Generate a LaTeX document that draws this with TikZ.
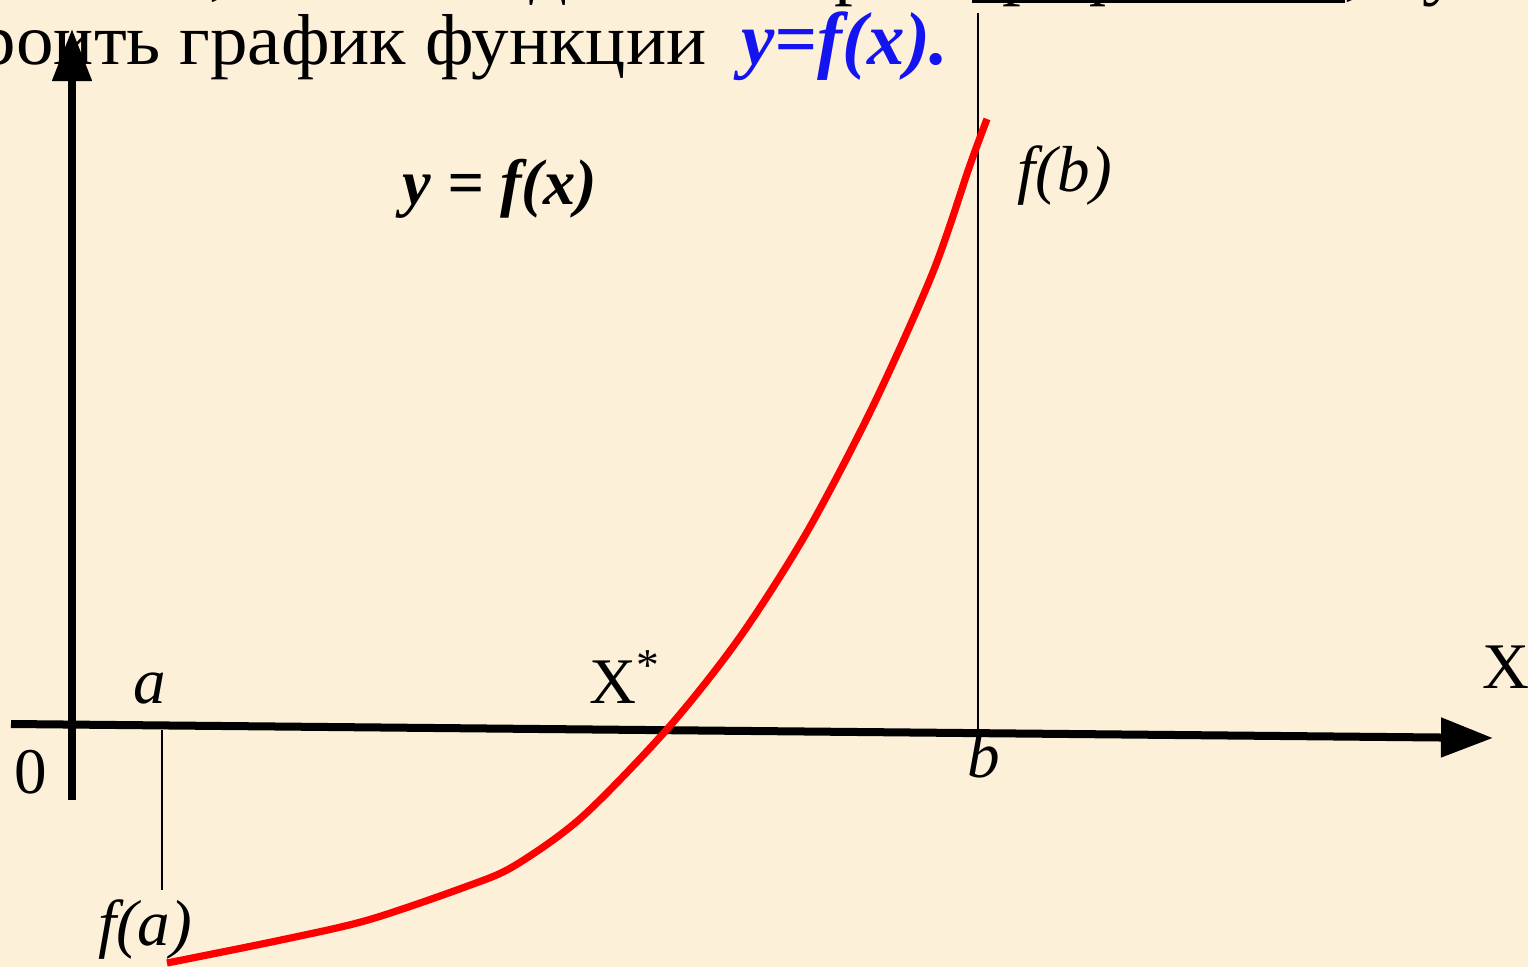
\documentclass[tikz,border=0pt]{standalone}
\usepackage{fontspec}
\setmainfont{Liberation Serif}
\newfontfamily\headfont[FakeStretch=1.04]{Liberation Serif}
\usetikzlibrary{arrows.meta, positioning}
\definecolor{paperbg}{RGB}{252,240,217}
\definecolor{curvered}{RGB}{255,0,0}
\definecolor{titleblue}{RGB}{20,20,240}
\newcommand{\thickul}[1]{\setbox0\hbox{#1}\rlap{\rule[-0.147em]{\wd0}{0.07em}}\box0}
\tikzset{
    axisline/.style={line width=0.08cm, -{Triangle[length=0.52cm, width=0.38cm]}},
    guideline/.style={line width=0.02cm},
    graphline/.style={line width=0.072cm, draw=curvered, line join=round},
    headtext/.style={font=\headfont\fontsize{20.5}{24}\selectfont, inner sep=0pt},
    axislabel/.style={font=\fontsize{18.5}{22}\selectfont, inner sep=0pt},
    funclabel/.style={font=\fontsize{18.3}{21}\selectfont\bfseries\itshape, inner sep=0pt}
}
\begin{document}
\begin{tikzpicture}[x=0.01cm,y=-0.01cm]
    \useasboundingbox (0,0) rectangle (1528,967);
    \fill[paperbg] (0,0) rectangle (1528,967);
    \clip (0,0) rectangle (1528,967);

    % Heading (cut by the frame)
    \node[headtext, anchor=base west] (ulword)   at (971,-8) {\thickul{графически}, нужно построить};
    \node[headtext, anchor=base east] (lineleft) at (953,-8) {Для того, чтобы отделить корни};
    \node[headtext, anchor=base east] (plotline) at (707,65) {построить график функции};
    \node[headtext, anchor=base west, font=\fontsize{21.3}{24}\selectfont, text=titleblue] (plotfunc) at (741,65) {\textbf{\textit{y=f(x).}}};

    % Guide lines at a and b
    \coordinate (atop) at (162,730);
    \coordinate (abot) at (162,890);
    \coordinate (btop) at (978,13);
    \coordinate (bbot) at (978,733);
    \draw[guideline] (atop) -- (abot);
    \draw[guideline] (btop) -- (bbot);

    % Axes
    \coordinate (xstart) at (11,724);
    \coordinate (xend)   at (1493,738);
    \coordinate (ystart) at (72,800);
    \coordinate (yend)   at (72,29);
    \draw[axisline] (xstart) -- (xend);
    \draw[axisline] (ystart) -- (yend);

    % Labels
    \node[axislabel, anchor=base]      (zero)    at (31,793)   {0};
    \node[axislabel, anchor=base]      (alabel)  at (150,703)  {\textit{a}};
    \node[axislabel, anchor=base]      (falabel) at (145,945)  {\textit{f(a)}};
    \node[axislabel, anchor=base west] (root)    at (589,703)  {X\textsuperscript{*}};
    \node[axislabel, anchor=base west] (xlabel)  at (1482,688) {X};
    \node[axislabel, anchor=base]      (blabel)  at (984,777)  {\textit{b}};
    \node[axislabel, anchor=base west] (fblabel) at (1017,192) {\textit{f(b)}};
    \node[funclabel, anchor=base west] (funcname) at (402,205) {y = f(x)};

    % Graph of the function
    \coordinate (fa) at (167,963);
    \coordinate (fb) at (987,119);
    \draw[graphline] plot[smooth] coordinates {(fa) (281,940) (368,920) (465,887) (514,866) (582,817) (669,727) (740,637) (807,532) (873,406) (933,272) (970,165) (fb)};
\end{tikzpicture}
\end{document}
